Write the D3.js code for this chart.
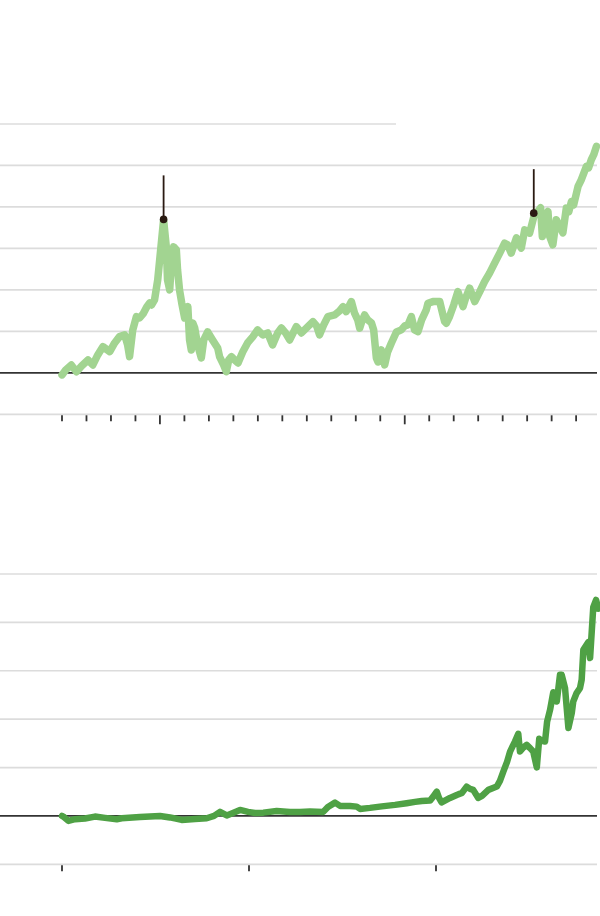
<!DOCTYPE html>
<html>
<head>
<meta charset="utf-8">
<script src="https://cdn.jsdelivr.net/npm/d3@7/dist/d3.min.js"></script>
<style>
  html, body { margin: 0; padding: 0; background: #fff; }
  svg { display: block; }
</style>
</head>
<body>
<div id="chart"></div>
<script>
// ---------- DATA ----------
// Top panel: percent change since start (years as decimals)
const topYears = [1996.0,1996.15,1996.38,1996.59,1996.80,1997.06,1997.26,1997.46,1997.67,1997.95,1998.15,1998.35,1998.56,1998.68,1998.76,1998.89,1999.04,1999.17,1999.31,1999.46,1999.58,1999.66,1999.78,1999.91,1999.99,2000.07,2000.15,2000.26,2000.31,2000.40,2000.48,2000.56,2000.67,2000.72,2000.80,2000.89,2001.01,2001.14,2001.21,2001.28,2001.34,2001.42,2001.54,2001.69,2001.79,2001.95,2002.15,2002.36,2002.44,2002.60,2002.71,2002.81,2002.92,2003.05,2003.19,2003.38,2003.58,2003.79,2003.99,2004.20,2004.40,2004.60,2004.81,2004.96,2005.13,2005.30,2005.57,2005.78,2005.99,2006.25,2006.40,2006.52,2006.69,2006.86,2007.14,2007.34,2007.48,2007.61,2007.82,2007.95,2008.08,2008.16,2008.24,2008.36,2008.49,2008.64,2008.73,2008.84,2008.91,2009.04,2009.18,2009.30,2009.45,2009.66,2009.86,2010.00,2010.13,2010.27,2010.40,2010.54,2010.69,2010.88,2010.95,2011.15,2011.43,2011.51,2011.63,2011.70,2011.83,2012.00,2012.17,2012.38,2012.49,2012.65,2012.86,2013.06,2013.26,2013.47,2013.67,2013.88,2014.08,2014.20,2014.35,2014.56,2014.76,2014.90,2015.10,2015.31,2015.43,2015.55,2015.62,2015.72,2015.85,2015.92,2016.05,2016.19,2016.40,2016.46,2016.60,2016.70,2016.81,2016.90,2017.08,2017.21,2017.42,2017.51,2017.62,2017.72,2017.83];
const topValues = [-5,6.9,19,2.8,16.6,31.1,19,43.1,63.2,51.1,72.1,87.3,91.4,67.3,39,103.5,135.6,132.4,142.1,159,168.6,163.8,175.9,224.2,272.4,320.7,369,304.5,224.2,200,277.3,303.8,296.6,248.3,200,168.6,132.4,159.7,79.3,55.2,120.4,108.3,67.3,35.9,79.3,98.6,79.3,60,38.3,19,2.8,31.1,39,31.1,23.8,50.4,72.1,86.6,103.5,91.4,96.2,67.3,96.2,108.3,96.2,79.3,111.4,96.2,108.3,123.5,113.1,91.4,115.5,135.6,139.7,149.3,159.7,147.6,171.8,143.8,127.6,107.6,122.8,139.7,127.6,120.4,103.5,35.9,26.2,55.2,19,50.4,71.4,98.6,103.5,113.1,115.5,135.6,103.5,99.4,127.6,151.7,167.9,171.8,171.8,151.7,123.5,119.6,135.6,163.8,195.9,159.7,180.7,204.1,171.8,195.2,220.1,241.1,264.5,288.6,312.7,308.6,288.6,325.5,300.7,344.8,336.9,385.2,388.3,397.9,328.7,373.8,389,328.7,308.6,369,344.8,337.6,397.2,388.3,413.1,405.2,449.4,465.5,497.6,494.5,513.8,525.9,545.9];
const topGrid = [-100, 0, 100, 200, 300, 400, 500, 600];
const topTickYears = d3.range(1996, 2018);
const topMajorYears = [2000, 2010];
const topMarkerYears = [2000.15, 2015.27];
const topMarkerValues = [370, 385];

// Bottom panel
const bottomYears = [1990.00,1990.07,1990.34,1990.70,1991.23,1991.76,1992.30,1992.93,1993.19,1994.17,1995.24,1995.78,1996.40,1997.11,1997.74,1998.13,1998.45,1998.81,1999.14,1999.52,1999.95,2000.32,2000.77,2001.48,2002.19,2002.73,2003.26,2003.97,2004.22,2004.60,2004.87,2005.40,2005.76,2005.94,2006.47,2007.10,2007.81,2008.43,2008.88,2009.24,2009.68,2009.84,2010.04,2010.16,2010.30,2010.75,2011.11,2011.39,2011.64,2011.82,2011.99,2012.26,2012.46,2012.80,2013.25,2013.42,2013.60,2013.80,2013.96,2014.22,2014.40,2014.49,2014.65,2014.85,2015.03,2015.20,2015.39,2015.52,2015.67,2015.83,2015.94,2016.10,2016.27,2016.46,2016.63,2016.72,2016.90,2017.08,2017.26,2017.34,2017.52,2017.70,2017.79,2017.88,2018.14,2018.24,2018.41,2018.56,2018.68];
const bottomValues = [0,-14,-103,-68,-52,-14,-41,-68,-48,-21,0,-31,-83,-62,-48,0,83,10,62,124,83,62,68,103,83,83,89,83,186,275,207,207,192,145,166,197,228,263,290,310,317,393,503,372,279,372,434,476,606,559,538,372,414,538,606,724,917,1117,1330,1537,1697,1330,1407,1469,1401,1330,1003,1593,1552,1537,1945,2193,2555,2365,2917,2917,2642,1815,2125,2365,2539,2642,2814,3435,3590,3263,4314,4463,4283];
const bottomGrid = [-1000, 0, 1000, 2000, 3000, 4000, 5000];
const bottomTickYears = [1990, 2000, 2010];

// ---------- DRAW ----------
const W = 600, H = 916;
const svg = d3.select("#chart").append("svg").attr("width", W).attr("height", H);

const GRID = "#dcdcdc", BASE = "#333333", INK = "#2a1a12";

// Top scales
const xT = d3.scaleLinear().domain([1996, 2018]).range([62, 600.6]);
const yT = d3.scaleLinear().domain([-100, 600]).range([414.3, 124]);

const gT = svg.append("g");
gT.selectAll("line.grid").data(topGrid).join("line")
  .attr("x1", 0)
  .attr("x2", d => d === 600 ? 396 : 597)
  .attr("y1", d => yT(d)).attr("y2", d => yT(d))
  .attr("stroke", d => d === 0 ? BASE : GRID)
  .attr("stroke-width", 1.7);

gT.selectAll("line.tick").data(topTickYears).join("line")
  .attr("x1", d => xT(d)).attr("x2", d => xT(d))
  .attr("y1", yT(-100) + 1)
  .attr("y2", d => topMajorYears.includes(d) ? yT(-100) + 10 : yT(-100) + 7)
  .attr("stroke", BASE).attr("stroke-width", 1.8);

const topData = topYears.map((y, i) => [y, topValues[i]]);
gT.append("path").datum(topData)
  .attr("fill", "none")
  .attr("stroke", "#a2d491")
  .attr("stroke-width", 7.5)
  .attr("stroke-linejoin", "round").attr("stroke-linecap", "round")
  .attr("d", d3.line().x(d => xT(d[0])).y(d => yT(d[1])));

const markers = topMarkerYears.map((y, i) => [y, topMarkerValues[i]]);
gT.selectAll("line.marker").data(markers).join("line")
  .attr("x1", d => xT(d[0])).attr("x2", d => xT(d[0]))
  .attr("y1", d => yT(d[1])).attr("y2", d => yT(d[1]) - 44)
  .attr("stroke", INK).attr("stroke-width", 1.8);
gT.selectAll("circle.marker").data(markers).join("circle")
  .attr("cx", d => xT(d[0])).attr("cy", d => yT(d[1]))
  .attr("r", 3.8).attr("fill", INK);

// Bottom scales
const xB = d3.scaleLinear().domain([1990, 2020]).range([62, 623]);
const yB = d3.scaleLinear().domain([-1000, 5000]).range([864.3, 574]);

const gB = svg.append("g");
gB.selectAll("line.grid").data(bottomGrid).join("line")
  .attr("x1", 0).attr("x2", 597)
  .attr("y1", d => yB(d)).attr("y2", d => yB(d))
  .attr("stroke", d => d === 0 ? BASE : GRID)
  .attr("stroke-width", 1.7);

gB.selectAll("line.tick").data(bottomTickYears).join("line")
  .attr("x1", d => xB(d)).attr("x2", d => xB(d))
  .attr("y1", yB(-1000) + 1).attr("y2", yB(-1000) + 7)
  .attr("stroke", BASE).attr("stroke-width", 1.8);

const bottomData = bottomYears.map((y, i) => [y, bottomValues[i]]);
gB.append("path").datum(bottomData)
  .attr("fill", "none")
  .attr("stroke", "#4fa145")
  .attr("stroke-width", 6.5)
  .attr("stroke-linejoin", "round").attr("stroke-linecap", "round")
  .attr("d", d3.line().x(d => xB(d[0])).y(d => yB(d[1])));
</script>
</body>
</html>
